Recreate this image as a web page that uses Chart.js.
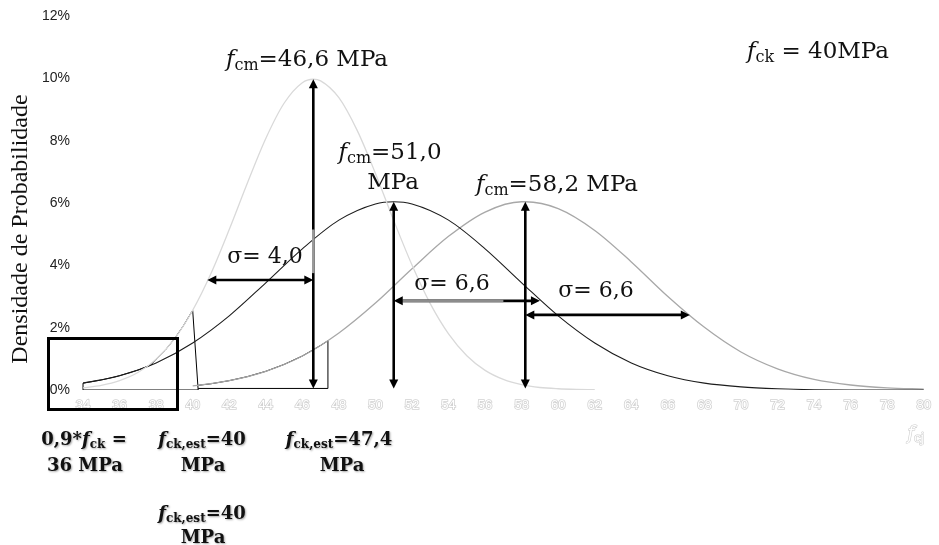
<!DOCTYPE html>
<html>
<head>
<meta charset="utf-8">
<script src="https://cdn.jsdelivr.net/npm/chart.js@4.4.1/dist/chart.umd.min.js"></script>
<style>
  html, body { margin: 0; padding: 0; background: #fff; }
  #wrap { position: relative; width: 939px; height: 545px; }
</style>
</head>
<body>
<div id="wrap"><canvas id="c" width="939" height="545"></canvas></div>
<script>
// Axis ticks: compressive strength fcj (MPa) and probability density (%)
const xTickValues = [34,36,38,40,42,44,46,48,50,52,54,56,58,60,62,64,66,68,70,72,74,76,78,80];
const yTickValues = [0,2,4,6,8,10,12];

// fcm = 46,6 MPa, sigma = 4,0
const curveLightX = [34,35,36,37,38,39,40,41,42,43,44,45,46,46.6,47,48,49,50,51,52,53,54,55,56,57,58,59,60,61,62];
const curveLightY = [0.07,0.15,0.30,0.56,0.99,1.64,2.56,3.74,5.15,6.65,8.07,9.20,9.86,9.97,9.92,9.38,8.33,6.95,5.44,4.01,2.77,1.80,1.10,0.63,0.34,0.17,0.08,0.04,0.02,0.01];

// fcm = 51,0 MPa, sigma = 6,6
const curveBlackX = [34,36,38,40,42,44,46,48,50,51,52,54,56,58,60,62,64,66,68,70,72,74,76,78,80];
const curveBlackY = [0.22,0.46,0.87,1.51,2.38,3.44,4.53,5.45,5.97,6.04,5.97,5.45,4.53,3.44,2.38,1.51,0.87,0.46,0.22,0.10,0.04,0.01,0.00,0.00,0.00];

// fcm = 58,2 MPa, sigma = 6,6
const curveGrayX = [40,42,44,46,48,50,52,54,56,58,58.2,60,62,64,66,68,70,72,74,76,78,80];
const curveGrayY = [0.13,0.30,0.60,1.09,1.83,2.79,3.89,4.93,5.71,6.04,6.04,5.82,5.12,4.11,3.00,2.01,1.22,0.68,0.34,0.16,0.07,0.03];

// Outlined tail areas below the estimated characteristic strengths
const tailAX = [34,34,35,36,37,37.7,38,38.5,39,39.5,40,40.3,34];
const tailAY = [0,0.22,0.32,0.46,0.64,0.80,0.99,1.28,1.64,2.07,2.56,0,0];
const tailBX = [40.3,47.4,47.4,47,46,45,44,43,42,41,40.3];
const tailBY = [0.05,0.05,1.58,1.43,1.09,0.82,0.60,0.43,0.30,0.20,0.15];

// Distribution parameters shown in the annotations
const fck = 40;
const meanValues = [46.6, 51.0, 58.2];
const sigmaValues = [4.0, 6.6, 6.6];
const fckEstValues = [40, 47.4];
const peakValues = [Math.max(...curveLightY), Math.max(...curveBlackY), Math.max(...curveGrayY)];

// Horizontal sigma arrows: start, end and height (%)
const sigmaFrom = [40.8, 51.0, 58.2];
const sigmaTo = [46.6, 59.0, 67.2];
const sigmaAt = [3.53, 2.86, 2.41];

const toPairs = (xs, ys) => xs.map((v, i) => ({ x: v, y: ys[i] }));
const fmt = v => Number.isInteger(v) ? String(v) : v.toFixed(1).replace('.', ',');
const fmt1 = v => v.toFixed(1).replace('.', ',');

const SERIF = '"DejaVu Serif", serif';

function richFont(style, size, bold) {
  const sz = style === 's' ? Math.round(size * 0.68) : size;
  return (style === 'i' ? 'italic ' : '') + (bold ? 'bold ' : '') + sz + 'px ' + SERIF;
}

// Draws a run of text parts ('i' italic, 's' subscript, '' plain) centred on cx
function drawRich(ctx, parts, cx, base, size, opt) {
  opt = opt || {};
  let w = 0;
  parts.forEach(p => { ctx.font = richFont(p[1], size, opt.bold); w += ctx.measureText(p[0]).width; });
  let x = cx - w / 2;
  ctx.textAlign = 'left';
  ctx.textBaseline = 'alphabetic';
  parts.forEach(p => {
    ctx.font = richFont(p[1], size, opt.bold);
    const yy = base + (p[1] === 's' ? size * 0.16 : 0);
    if (opt.stroke) {
      ctx.lineWidth = opt.strokeWidth || 1.5;
      ctx.strokeStyle = opt.stroke;
      ctx.strokeText(p[0], x, yy);
    }
    ctx.fillStyle = opt.color || '#111';
    ctx.fillText(p[0], x, yy);
    x += ctx.measureText(p[0]).width;
  });
}

function head(ctx, x, y, ang, len, hw) {
  ctx.beginPath();
  ctx.moveTo(x, y);
  ctx.lineTo(x - len * Math.cos(ang) + hw * Math.sin(ang), y - len * Math.sin(ang) - hw * Math.cos(ang));
  ctx.lineTo(x - len * Math.cos(ang) - hw * Math.sin(ang), y - len * Math.sin(ang) + hw * Math.cos(ang));
  ctx.closePath();
  ctx.fill();
}

function doubleArrow(ctx, x1, y1, x2, y2) {
  const len = 9, hw = 4.5;
  const ang = Math.atan2(y2 - y1, x2 - x1);
  const dx = Math.cos(ang) * (len - 1), dy = Math.sin(ang) * (len - 1);
  ctx.strokeStyle = '#000';
  ctx.fillStyle = '#000';
  ctx.lineWidth = 2.6;
  ctx.beginPath();
  ctx.moveTo(x1 + dx, y1 + dy);
  ctx.lineTo(x2 - dx, y2 - dy);
  ctx.stroke();
  head(ctx, x2, y2, ang, len, hw);
  head(ctx, x1, y1, ang + Math.PI, len, hw);
}

const annotations = {
  id: 'annotations',
  afterDatasetsDraw(chart) {
    const { ctx } = chart;
    const xs = chart.scales.x, ys = chart.scales.y;
    const px = v => xs.getPixelForValue(v), py = v => ys.getPixelForValue(v);
    ctx.save();

    // mean lines
    meanValues.forEach((m, i) => doubleArrow(ctx, px(m), py(0.05), px(m), py(peakValues[i])));
    ctx.strokeStyle = '#9a9a9a';
    ctx.lineWidth = 2.6;
    ctx.beginPath();
    ctx.moveTo(px(meanValues[0]), py(5.15));
    ctx.lineTo(px(meanValues[0]), py(3.75));
    ctx.stroke();

    // sigma arrows
    sigmaFrom.forEach((f, i) => doubleArrow(ctx, px(f), py(sigmaAt[i]), px(sigmaTo[i]), py(sigmaAt[i])));
    ctx.strokeStyle = '#8c8c8c';
    ctx.beginPath();
    ctx.moveTo(px(sigmaFrom[1]) + 9, py(sigmaAt[1]));
    ctx.lineTo(px(57.0), py(sigmaAt[1]));
    ctx.stroke();

    // frame around the 0,9*fck region
    ctx.strokeStyle = '#000';
    ctx.lineWidth = 3;
    ctx.strokeRect(48.5, 338.5, 129, 71);

    // labels
    const big = 23;
    drawRich(ctx, [['f', 'i'], ['cm', 's'], ['=' + fmt1(meanValues[0]) + ' MPa', '']], 307, 66, big);
    drawRich(ctx, [['f', 'i'], ['cm', 's'], ['=' + fmt1(meanValues[1]), '']], 390, 159, big);
    drawRich(ctx, [['MPa', '']], 393, 189, big);
    drawRich(ctx, [['f', 'i'], ['cm', 's'], ['=' + fmt1(meanValues[2]) + ' MPa', '']], 557, 191, big);
    drawRich(ctx, [['f', 'i'], ['ck', 's'], [' = ' + fck + 'MPa', '']], 818, 58, big);

    const sigX = [265, 452, 596], sigB = [263, 290, 297];
    sigmaValues.forEach((s, i) => drawRich(ctx, [['\u03c3= ' + fmt1(s), '']], sigX[i], sigB[i], 22));

    // labels under the axis
    ctx.shadowColor = 'rgba(0,0,0,0.35)';
    ctx.shadowBlur = 2;
    ctx.shadowOffsetX = 1;
    ctx.shadowOffsetY = 1;
    const sm = 18, bo = { bold: true };
    drawRich(ctx, [['0,9*', ''], ['f', 'i'], ['ck', 's'], [' =', '']], 84, 445, sm, bo);
    drawRich(ctx, [[fmt(0.9 * fck) + ' MPa', '']], 85, 471, sm, bo);
    drawRich(ctx, [['f', 'i'], ['ck,est', 's'], ['=' + fmt(fckEstValues[0]), '']], 202, 445, sm, bo);
    drawRich(ctx, [['MPa', '']], 203, 471, sm, bo);
    drawRich(ctx, [['f', 'i'], ['ck,est', 's'], ['=' + fmt(fckEstValues[1]), '']], 339, 445, sm, bo);
    drawRich(ctx, [['MPa', '']], 342, 471, sm, bo);
    drawRich(ctx, [['f', 'i'], ['ck,est', 's'], ['=' + fmt(fckEstValues[0]), '']], 202, 519, sm, bo);
    drawRich(ctx, [['MPa', '']], 203, 543, sm, bo);
    ctx.shadowColor = 'transparent';

    // axis titles
    drawRich(ctx, [['f', 'i'], ['cj', 's']], 916, 439, 18, { color: '#fff', stroke: '#cccccc', strokeWidth: 1.1 });
    ctx.save();
    ctx.translate(21, 229);
    ctx.rotate(-Math.PI / 2);
    ctx.textAlign = 'center';
    ctx.textBaseline = 'middle';
    ctx.fillStyle = '#111';
    ctx.font = '24px "Liberation Serif", serif';
    ctx.fillText('Densidade de Probabilidade', 0, 0);
    ctx.restore();

    ctx.restore();
  }
};

const curveStyle = (color, width) => ({
  showLine: true, borderColor: color, borderWidth: width, pointRadius: 0,
  cubicInterpolationMode: 'monotone', fill: false
});
const outlineStyle = { showLine: true, borderColor: '#000', borderWidth: 1, pointRadius: 0, tension: 0, fill: false };

new Chart(document.getElementById('c'), {
  type: 'scatter',
  data: {
    datasets: [
      Object.assign({ data: toPairs(curveLightX, curveLightY) }, curveStyle('#d9d9d9', 1.3)),
      Object.assign({ data: toPairs(curveBlackX, curveBlackY) }, curveStyle('#1c1c1c', 1.1)),
      Object.assign({ data: toPairs(curveGrayX, curveGrayY) }, curveStyle('#a8a8a8', 1.3)),
      Object.assign({ data: toPairs(tailAX, tailAY) }, outlineStyle),
      Object.assign({ data: toPairs(tailBX, tailBY) }, outlineStyle)
    ]
  },
  options: {
    responsive: false,
    animation: false,
    layout: { padding: { top: 16, right: 4, left: 0, bottom: 0 } },
    plugins: { legend: { display: false }, tooltip: { enabled: false } },
    scales: {
      x: {
        type: 'linear', min: 33.67, max: 80.57,
        afterBuildTicks: s => { s.ticks = xTickValues.map(v => ({ value: v })); },
        afterFit: s => { s.height = 155; },
        grid: { display: false, drawTicks: false },
        border: { display: false },
        ticks: {
          autoSkip: false, maxRotation: 0, padding: 8,
          color: '#ffffff', textStrokeColor: '#d2d2d2', textStrokeWidth: 1.6,
          font: { family: '"Liberation Sans", sans-serif', size: 13 }
        }
      },
      y: {
        min: 0, max: 12,
        afterBuildTicks: s => { s.ticks = yTickValues.map(v => ({ value: v })); },
        afterFit: s => { s.width = 77; },
        grid: { display: false, drawTicks: false },
        border: { display: false },
        ticks: {
          padding: 7, color: '#222',
          font: { family: '"Liberation Sans", sans-serif', size: 14 },
          callback: v => v + '%'
        }
      }
    }
  },
  plugins: [annotations]
});
</script>
</body>
</html>
